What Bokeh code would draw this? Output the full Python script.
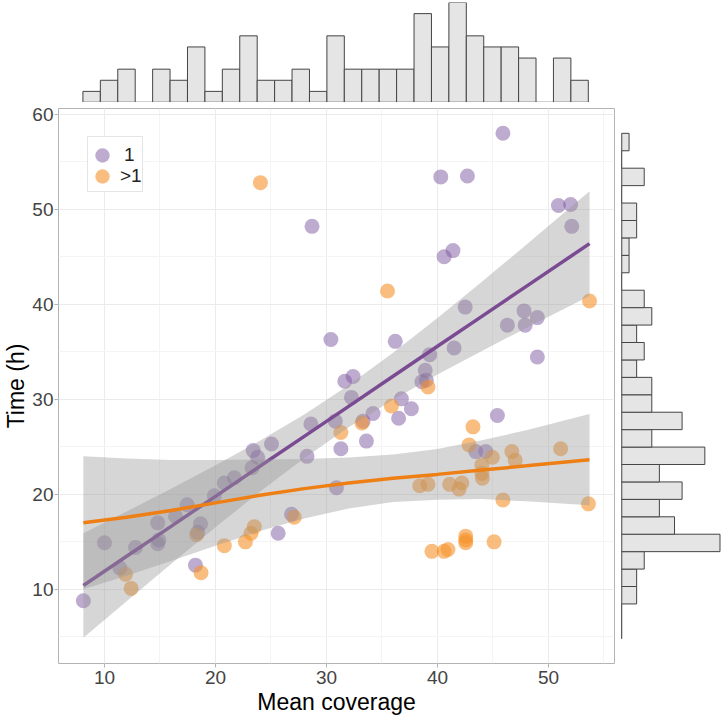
import numpy as np
from bokeh.plotting import figure
from bokeh.models import Legend, LegendItem, SingleIntervalTicker, Range1d, BoxAnnotation
from bokeh.layouts import column, row
from bokeh.embed import file_html
from bokeh.resources import INLINE

# ---------------- data ----------------
x_one = [8.1, 10.0, 11.4, 12.8, 14.8, 14.8, 14.9, 16.4, 17.45, 18.65, 18.4, 18.2,
         19.9, 20.8, 21.7, 23.4, 23.8, 23.3, 25.05, 25.65, 26.85, 28.25, 28.6, 28.7,
         30.4, 30.8, 30.9, 31.3, 31.65, 32.4, 32.25, 33.3, 33.6, 34.2, 36.2, 36.5,
         36.75, 37.65, 38.6, 38.9, 39.0, 39.3, 40.3, 40.6, 41.4, 41.5, 42.5, 42.7,
         43.45, 44.35, 45.4, 45.9, 46.3, 47.8, 47.9, 49.0, 49.0, 50.9, 52.0, 52.1]
y_one = [8.8, 14.9, 12.25, 14.4, 17.0, 14.8, 15.2, 17.7, 18.9, 16.9, 16.0, 12.55,
         19.85, 21.2, 21.75, 24.6, 23.9, 22.8, 25.3, 15.9, 17.9, 24.0, 27.4, 48.2,
         36.3, 27.7, 20.7, 24.8, 31.9, 32.4, 30.2, 27.7, 25.6, 28.5, 36.1, 28.0,
         30.05, 29.0, 31.85, 33.05, 32.0, 34.7, 53.4, 45.0, 45.65, 35.4, 39.7, 53.5,
         24.5, 24.5, 28.3, 58.0, 37.8, 39.3, 37.8, 38.6, 34.45, 50.4, 50.5, 48.2]

x_many = [11.9, 12.4, 18.3, 18.7, 20.8, 22.7, 23.2, 23.5, 24.05, 27.1, 31.3, 33.2,
          35.5, 35.85, 38.4, 39.15, 39.15, 39.5, 40.6, 40.95, 41.1, 41.95, 42.2,
          42.55, 42.55, 42.55, 42.85, 43.2, 44.0, 44.0, 44.05, 44.95, 45.1, 45.9,
          46.7, 47.0, 51.1, 53.6, 53.7]
y_many = [11.6, 10.1, 15.75, 11.75, 14.6, 15.0, 15.9, 16.6, 52.8, 17.6, 26.5, 27.5,
          41.4, 29.3, 20.9, 31.3, 21.05, 14.0, 14.0, 14.2, 21.05, 20.55, 21.2,
          15.6, 15.2, 14.9, 25.2, 27.1, 23.1, 22.2, 21.7, 23.9, 15.0, 19.4,
          24.5, 23.6, 24.8, 19.0, 40.35]

# smoothed fits and confidence bands (read at these x values)
fit_x = [8.1, 12, 16, 20, 24, 28, 32, 36, 40, 44, 48, 53.7]
fit_one = [10.4, 13.48, 16.63, 19.79, 22.95, 26.1, 29.26, 32.42, 35.58, 38.73, 41.88, 46.38]
lo_one = [4.9, 8.76, 12.67, 16.53, 20.27, 23.81, 27.05, 29.95, 32.6, 35.09, 37.51, 40.88]
hi_one = [15.9, 18.2, 20.59, 23.05, 25.63, 28.39, 31.47, 34.89, 38.56, 42.37, 46.25, 51.88]
fit_many = [17.0, 17.6, 18.3, 19.1, 19.9, 20.6, 21.2, 21.7, 22.1, 22.55, 23.0, 23.65]
lo_many = [10.0, 11.44, 12.98, 14.59, 16.13, 17.47, 18.52, 19.2, 19.44, 19.5, 19.26, 18.85]
hi_many = [24.0, 23.76, 23.62, 23.61, 23.67, 23.73, 23.88, 24.2, 24.76, 25.7, 26.74, 28.45]

# marginal histograms
top_start, top_width = 8.15, 1.57
top_counts = [1, 2, 3, 0, 3, 2, 5, 1, 3, 6, 2, 2, 3, 1, 6, 3, 3, 3, 3, 8, 5, 9, 6, 5, 5, 4, 0, 4, 2]
right_start, right_width = 4.8, 1.834
right_counts = [0, 0, 2, 2, 3, 13, 7, 5, 8, 5, 11, 4, 8, 4, 4, 2, 3, 2, 4, 3, 0, 1, 1, 2, 2, 0, 3, 0, 1]

legend_labels = ["1", ">1"]
x_ticks_interval = 10
y_ticks_interval = 10

# ---------------- styles ----------------
FONT = "Liberation Sans"
PURPLE_PT = "#7E57A1"
ORANGE_PT = "#F5922A"
PURPLE_LN = "#7A4A93"
ORANGE_LN = "#EE7F14"
BAR_FILL = "#E5E5E5"
BAR_LINE = "#444444"

FW, FH = 556, 555          # main panel
LB, BB, TB = 57, 54, 6     # main borders
GAP, RW = 7, 100           # right histogram
TH = 100                   # top histogram panel

xr = Range1d(5.86, 55.95)
yr = Range1d(2.2, 60.6)

# ---------------- main plot ----------------
p = figure(frame_width=FW, frame_height=FH, x_range=xr, y_range=yr,
           output_backend="svg", toolbar_location=None,
           min_border_left=LB, min_border_right=GAP, min_border_top=TB,
           min_border_bottom=BB)
p.background_fill_color = "white"
p.border_fill_color = "white"
p.outline_line_color = "#B3B3B3"
p.outline_line_width = 1

for ax, interval in ((p.xaxis, x_ticks_interval), (p.yaxis, y_ticks_interval)):
    ax.ticker = SingleIntervalTicker(interval=interval, num_minor_ticks=2)
    ax.axis_line_color = None
    ax.major_tick_line_color = "#B3B3B3"
    ax.major_tick_out = 4
    ax.major_tick_in = 0
    ax.minor_tick_line_color = None
    ax.major_label_text_font = FONT
    ax.major_label_text_font_size = "19px"
    ax.major_label_text_color = "#444444"
    ax.major_label_standoff = 1
    ax.axis_label_text_font = FONT
    ax.axis_label_text_font_size = "23px"
    ax.axis_label_text_font_style = "normal"
    ax.axis_label_text_color = "black"
    ax.axis_label_standoff = 0
p.xaxis.major_label_standoff = 3
p.xaxis.axis_label_standoff = 2
p.xaxis.axis_label = "Mean coverage"
p.yaxis.axis_label = "Time (h)"

for g in (p.xgrid, p.ygrid):
    g.grid_line_color = "#EBEBEB"
    g.grid_line_width = 1
    g.minor_grid_line_color = "#F4F4F4"
    g.minor_grid_line_width = 1

r1 = p.scatter(x_one, y_one, size=15, fill_color=PURPLE_PT, fill_alpha=0.5,
               line_color=None)
r2 = p.scatter(x_many, y_many, size=15, fill_color=ORANGE_PT, fill_alpha=0.6,
               line_color=None)

p.varea(x=fit_x, y1=lo_one, y2=hi_one, fill_color="#999999", fill_alpha=0.4)
p.line(fit_x, fit_one, line_color=PURPLE_LN, line_width=3.5)
p.varea(x=fit_x, y1=lo_many, y2=hi_many, fill_color="#999999", fill_alpha=0.4)
p.line(fit_x, fit_many, line_color=ORANGE_LN, line_width=3.5)

# legend: framed box with two tightly stacked entries
box = BoxAnnotation(left=29, right=84, top=FH - 28, bottom=FH - 83,
                    left_units="screen", right_units="screen",
                    top_units="screen", bottom_units="screen",
                    fill_color="white", fill_alpha=1,
                    line_color="#AAAAAA", line_width=1)
p.add_layout(box)

G = 36
for lab, rend, top_off, standoff in ((legend_labels[0], r1, 29, 4),
                                     (legend_labels[1], r2, 50, -3)):
    lg = Legend(items=[LegendItem(label=lab, renderers=[rend])],
                location=(26, FH - top_off - G), margin=0, padding=0,
                glyph_width=G, glyph_height=G, label_standoff=standoff,
                label_text_font=FONT, label_text_font_size="19px",
                label_text_color="#222222",
                border_line_color=None, background_fill_alpha=0)
    p.add_layout(lg)

# ---------------- top histogram ----------------
top_edges = top_start + top_width * np.arange(len(top_counts) + 1)
pt = figure(frame_width=FW, frame_height=TH, x_range=xr, y_range=Range1d(0, 9.0),
            output_backend="svg", toolbar_location=None,
            min_border_left=LB, min_border_right=0, min_border_top=2,
            min_border_bottom=0)
pt.quad(left=top_edges[:-1], right=top_edges[1:], bottom=0, top=top_counts,
        fill_color=BAR_FILL, line_color=BAR_LINE, line_width=1)
pt.line([top_edges[0], top_edges[-1]], [0, 0], line_color=BAR_LINE, line_width=1.5)
pt.axis.visible = False
pt.grid.visible = False
pt.outline_line_color = None

# ---------------- right histogram ----------------
right_edges = right_start + right_width * np.arange(len(right_counts) + 1)
pr = figure(frame_width=RW, frame_height=FH, x_range=Range1d(0, 13.2), y_range=yr,
            output_backend="svg", toolbar_location=None,
            min_border_left=0, min_border_right=0, min_border_top=TB,
            min_border_bottom=BB)
pr.quad(left=0, right=right_counts, bottom=right_edges[:-1], top=right_edges[1:],
        fill_color=BAR_FILL, line_color=BAR_LINE, line_width=1)
pr.line([0, 0], [right_edges[0], right_edges[-1]], line_color=BAR_LINE, line_width=1.5)
pr.axis.visible = False
pr.grid.visible = False
pr.outline_line_color = None

layout = column(pt, row(p, pr, spacing=0), spacing=0)
open("out.html", "w").write(file_html(layout, INLINE))
